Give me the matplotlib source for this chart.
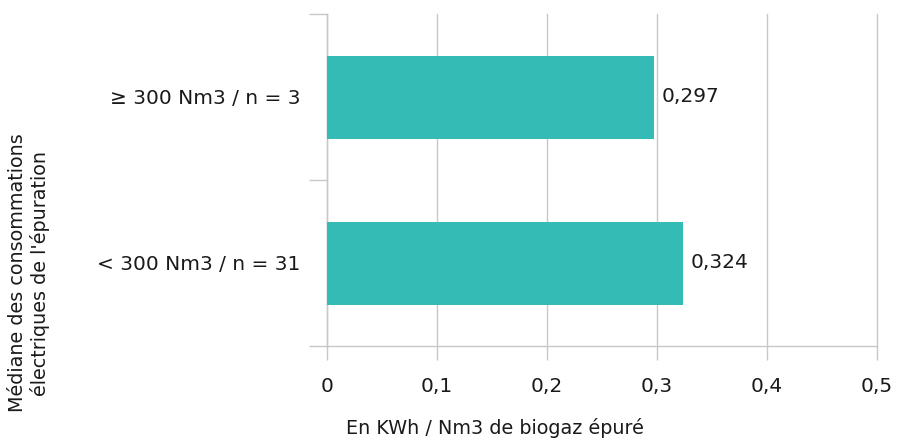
import matplotlib
matplotlib.use("Agg")
import matplotlib.pyplot as plt
from matplotlib.ticker import FixedLocator

categories = ["< 300 Nm3 / n = 31", "≥ 300 Nm3 / n = 3"]
values = [0.324, 0.297]
value_labels = ["0,324", "0,297"]
x_ticks = [0, 0.1, 0.2, 0.3, 0.4, 0.5]
x_tick_labels = ["0", "0,1", "0,2", "0,3", "0,4", "0,5"]
x_label = "En KWh / Nm3 de biogaz épuré"
y_label = "Médiane des consommations\nélectriques de l'épuration"

plt.rcParams['font.family'] = ['DejaVu Sans']
FS = 14.5
LFS = 13.8
TXT = "#1a1a1a"
GRID = "#c8c8c8"
BAR = "#35BBB5"

fig = plt.figure(figsize=(8.98, 4.41), dpi=100)
ax = fig.add_axes([327/898, 95/441, 550/898, 332/441])

ypos = list(range(len(categories)))
ax.barh(ypos, values, height=0.5, color=BAR, zorder=3)
for y, v, lab in zip(ypos, values, value_labels):
    ax.text(v + 0.007, y, lab, va="center", ha="left", fontsize=FS, color=TXT)

ax.set_xlim(0, 0.5)
ax.set_ylim(-0.5, len(categories) - 0.5)
ax.set_xticks(x_ticks)
ax.set_xticklabels(x_tick_labels)
ax.set_yticks(ypos)
ax.set_yticklabels(categories)
ax.yaxis.set_minor_locator(FixedLocator([-0.5, 0.5, 1.5]))
ax.tick_params(axis="y", which="major", length=0, pad=19, labelsize=FS, labelcolor=TXT)
ax.tick_params(axis="y", which="minor", length=13, width=1, color=GRID)
ax.tick_params(axis="x", which="major", length=10, width=1, color=GRID, pad=12, labelsize=FS, labelcolor=TXT)
ax.grid(axis="x", color=GRID, linewidth=1, zorder=0)
for gl in ax.get_xgridlines():
    gl.set_clip_on(False)
for s in ["top", "right"]:
    ax.spines[s].set_visible(False)
for s in ["left", "bottom"]:
    ax.spines[s].set_color(GRID)
    ax.spines[s].set_linewidth(1)

fig.text(495/898, 1 - 428/441, x_label, ha="center", va="center", fontsize=LFS, color=TXT)
fig.text(29/898, 1 - 273/441, y_label, ha="center", va="center", rotation=90, fontsize=LFS, color=TXT, multialignment="center", linespacing=1.2)

fig.savefig("out.png", dpi=100)
